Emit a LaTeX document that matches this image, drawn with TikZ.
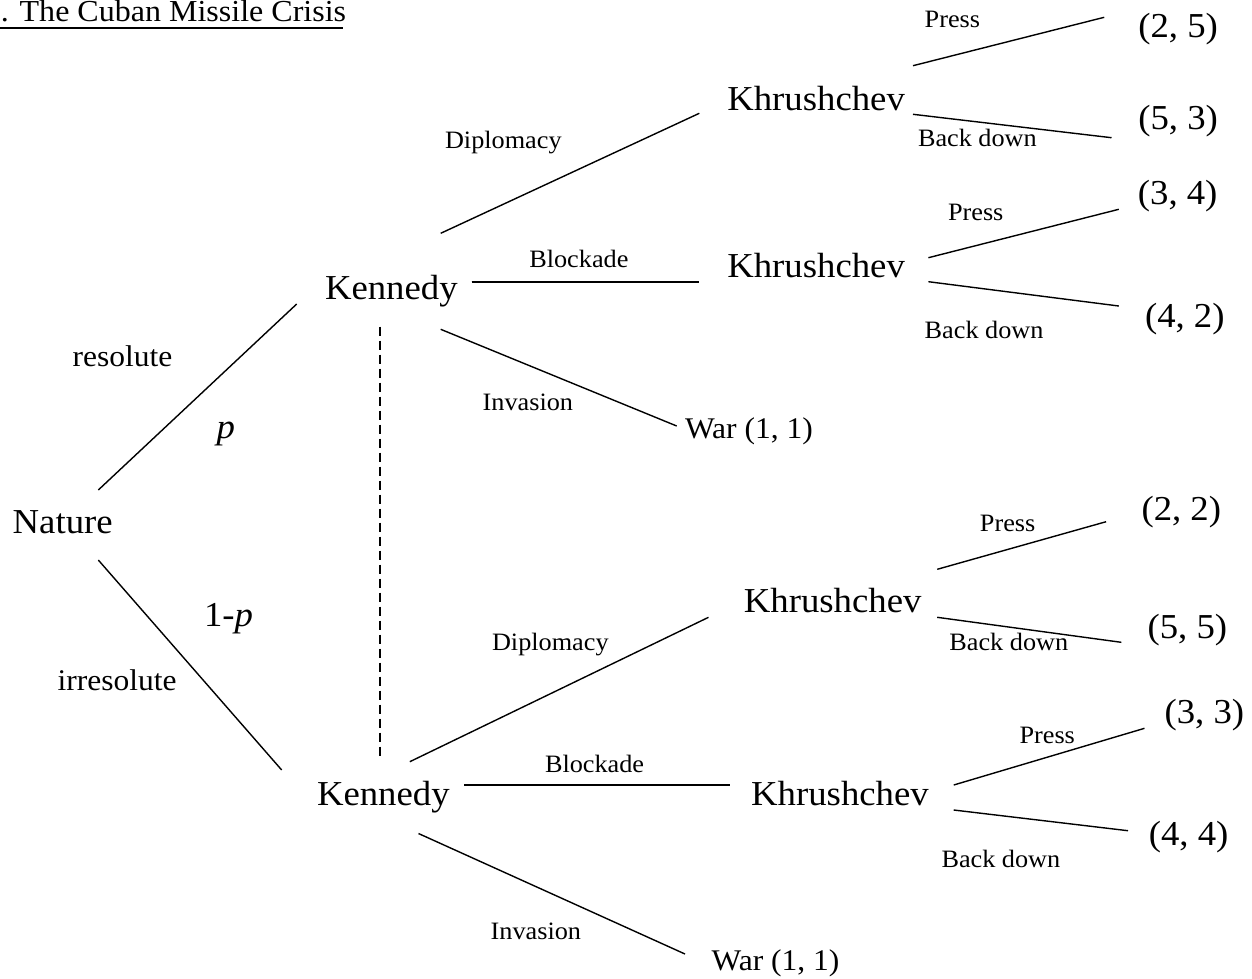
\documentclass[tikz,border=0pt]{standalone}
\usepackage{fontspec}
\setmainfont{Liberation Serif}[FakeStretch=1.05]
\begin{document}
\begin{tikzpicture}[x=1pt,y=-1pt,
  every node/.style={inner sep=0pt,outer sep=0pt,anchor=base west},
  big/.style={font=\fontsize{35}{40}\selectfont},
  mid/.style={font=\fontsize{30}{34}\selectfont},
  small/.style={font=\fontsize{25}{28}\selectfont},
  titlefont/.style={font=\fontsize{30.5}{34}\selectfont},
  edge/.style={line width=1.4pt},
  thickend/.style={line width=2.4pt},
  info/.style={line width=1.2pt,dash pattern=on 9pt off 5pt}]
\fill[white] (0,0) rectangle (1252,978);
\useasboundingbox (0,0) rectangle (1252,978);

% title
\node[titlefont] (title) at (1,21.7) {. The Cuban Missile Crisis};
\draw[line width=1.8pt] ([shift={(-1,6.3)}]title.base west) -- ([shift={(342,6.3)}]title.base west);

% decision nodes
\node[big] (nature) at (12.7,533) {Nature};
\node[big] (k1) at (325,299.3) {Kennedy};
\node[big] (k2) at (317,805) {Kennedy};
\node[big] (kh1) at (727.3,110) {Khrushchev};
\node[big] (kh2) at (727.3,277.3) {Khrushchev};
\node[big] (kh3) at (743.9,612.7) {Khrushchev};
\node[big] (kh4) at (751.2,805) {Khrushchev};
\node[mid] (war1) at (685,438.3) {War (1, 1)};
\node[mid] (war2) at (711.7,970) {War (1, 1)};

% payoffs
\node[big] (p25) at (1138.3,37) {(2, 5)};
\node[big] (p53) at (1138.3,129) {(5, 3)};
\node[big] (p34) at (1137.9,204) {(3, 4)};
\node[big] (p42) at (1145,327) {(4, 2)};
\node[big] (p22) at (1141.5,520) {(2, 2)};
\node[big] (p55) at (1147.6,638.3) {(5, 5)};
\node[big] (p33) at (1164.6,723.3) {(3, 3)};
\node[big] (p44) at (1148.8,845) {(4, 4)};

% labels
\node[mid] (lres) at (72.7,366) {resolute};
\node[big] (lp) at (216.7,438) {\itshape p};
\node[big] (l1p) at (204,626) {1-\textit{p}};
\node[mid] (lirr) at (57.7,690.7) {irresolute};
\node[small] (ldip1) at (445,148.3) {Diplomacy};
\node[small] (lblo1) at (529.3,267.7) {Blockade};
\node[small] (linv1) at (482.7,410.7) {Invasion};
\node[small] (lpre1) at (924.7,27.3) {Press};
\node[small] (lbac1) at (918,146.7) {Back down};
\node[small] (lpre2) at (948,220) {Press};
\node[small] (lbac2) at (924.7,338.3) {Back down};
\node[small] (ldip2) at (492,650.7) {Diplomacy};
\node[small] (lblo2) at (545,772.5) {Blockade};
\node[small] (linv2) at (490.7,939.3) {Invasion};
\node[small] (lpre3) at (979.9,531.7) {Press};
\node[small] (lbac3) at (949.4,650.7) {Back down};
\node[small] (lpre4) at (1019.5,743) {Press};
\node[small] (lbac4) at (941.5,867.3) {Back down};

% connectors
\draw[edge] ([shift={(85.6,-43)}]nature.base west) -- ([shift={(-28.3,4.7)}]k1.base west);
\draw[edge] ([shift={(85.6,27)}]nature.base west) -- ([shift={(-35.3,-35)}]k2.base west);
\draw[info] ([shift={(55,27.4)}]k1.base west) -- ([shift={(63,-49)}]k2.base west);

\draw[edge] ([shift={(115.7,-66)}]k1.base west) -- ([shift={(-28,3.3)}]kh1.base west);
\draw[edge] ([shift={(146.7,-17.3)}]k1.base west) -- ([shift={(-28,4.7)}]kh2.base west);
\draw[thickend] ([shift={(146.7,-17.3)}]k1.base west) -- ([shift={(183,-17.3)}]k1.base west);
\draw[thickend] ([shift={(-49.3,4.7)}]kh2.base west) -- ([shift={(-28,4.7)}]kh2.base west);
\draw[edge] ([shift={(115.7,30)}]k1.base west) -- ([shift={(-8.3,-12.3)}]war1.base west);

\draw[edge] ([shift={(185.7,-44.3)}]kh1.base west) -- ([shift={(-34.1,-19.7)}]p25.base west);
\draw[edge] ([shift={(185.7,4.3)}]kh1.base west) -- ([shift={(-26.8,8.7)}]p53.base west);
\draw[edge] ([shift={(201.1,-19.6)}]kh2.base west) -- ([shift={(-19.1,5.3)}]p34.base west);
\draw[edge] ([shift={(201.1,4.4)}]kh2.base west) -- ([shift={(-26.2,-21)}]p42.base west);

\draw[edge] ([shift={(92.8,-43.3)}]k2.base west) -- ([shift={(-35.4,4.6)}]kh3.base west);
\draw[edge] ([shift={(147,-20)}]k2.base west) -- ([shift={(-21.2,-20)}]kh4.base west);
\draw[thickend] ([shift={(147,-20)}]k2.base west) -- ([shift={(206,-20)}]k2.base west);
\draw[thickend] ([shift={(-57.9,-20)}]kh4.base west) -- ([shift={(-21.2,-20)}]kh4.base west);
\draw[edge] ([shift={(101.5,28.5)}]k2.base west) -- ([shift={(-26.7,-16)}]war2.base west);

\draw[edge] ([shift={(193.3,-43.4)}]kh3.base west) -- ([shift={(-35.4,1.7)}]p22.base west);
\draw[edge] ([shift={(193.3,4.6)}]kh3.base west) -- ([shift={(-26.3,4)}]p55.base west);
\draw[edge] ([shift={(202.5,-20)}]kh4.base west) -- ([shift={(-20.1,5)}]p33.base west);
\draw[edge] ([shift={(202.5,5)}]kh4.base west) -- ([shift={(-20.8,-14.3)}]p44.base west);
\end{tikzpicture}
\end{document}
